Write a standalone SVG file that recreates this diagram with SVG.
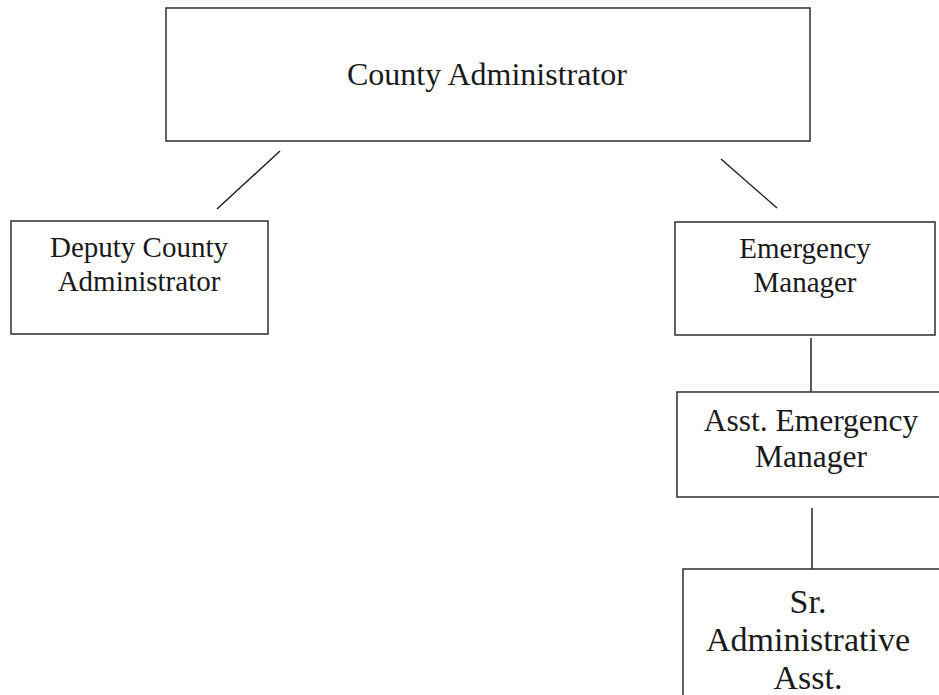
<svg xmlns="http://www.w3.org/2000/svg" width="939" height="695" viewBox="0 0 939 695">
  <style>
    .box { fill: #ffffff; stroke: #3a3a3a; stroke-width: 1.6; }
    .lbl { font-family: "Liberation Serif", "Times New Roman", serif; fill: #1a1a1a; text-anchor: middle; }
    .link { stroke: #222222; stroke-width: 1.5; fill: none; }
  </style>
  <rect width="939" height="695" fill="#ffffff"/>

  <g id="connectors">
    <line class="link" x1="280" y1="151" x2="217" y2="209"/>
    <line class="link" x1="721" y1="159" x2="777" y2="208"/>
    <line class="link" x1="811" y1="338" x2="811" y2="392"/>
    <line class="link" x1="812" y1="508" x2="812" y2="569"/>
  </g>

  <g id="county-administrator">
    <rect class="box" x="166" y="8" width="644" height="133"/>
    <text class="lbl" x="487" y="85" font-size="32">County Administrator</text>
  </g>

  <g id="deputy-county-administrator">
    <rect class="box" x="11" y="221" width="257" height="113"/>
    <text class="lbl" x="139" y="257" font-size="29">Deputy County</text>
    <text class="lbl" x="139" y="291" font-size="29">Administrator</text>
  </g>

  <g id="emergency-manager">
    <rect class="box" x="675" y="222" width="260" height="113"/>
    <text class="lbl" x="805" y="258" font-size="29">Emergency</text>
    <text class="lbl" x="805" y="292" font-size="29">Manager</text>
  </g>

  <g id="asst-emergency-manager">
    <rect class="box" x="677" y="392" width="268" height="105"/>
    <text class="lbl" x="811" y="431" font-size="31.5">Asst. Emergency</text>
    <text class="lbl" x="811" y="467" font-size="31.5">Manager</text>
  </g>

  <g id="sr-administrative-asst">
    <rect class="box" x="683" y="569" width="260" height="140"/>
    <text class="lbl" x="808" y="613" font-size="34">Sr.</text>
    <text class="lbl" x="808" y="651" font-size="34">Administrative</text>
    <text class="lbl" x="808" y="689" font-size="34">Asst.</text>
  </g>
</svg>
